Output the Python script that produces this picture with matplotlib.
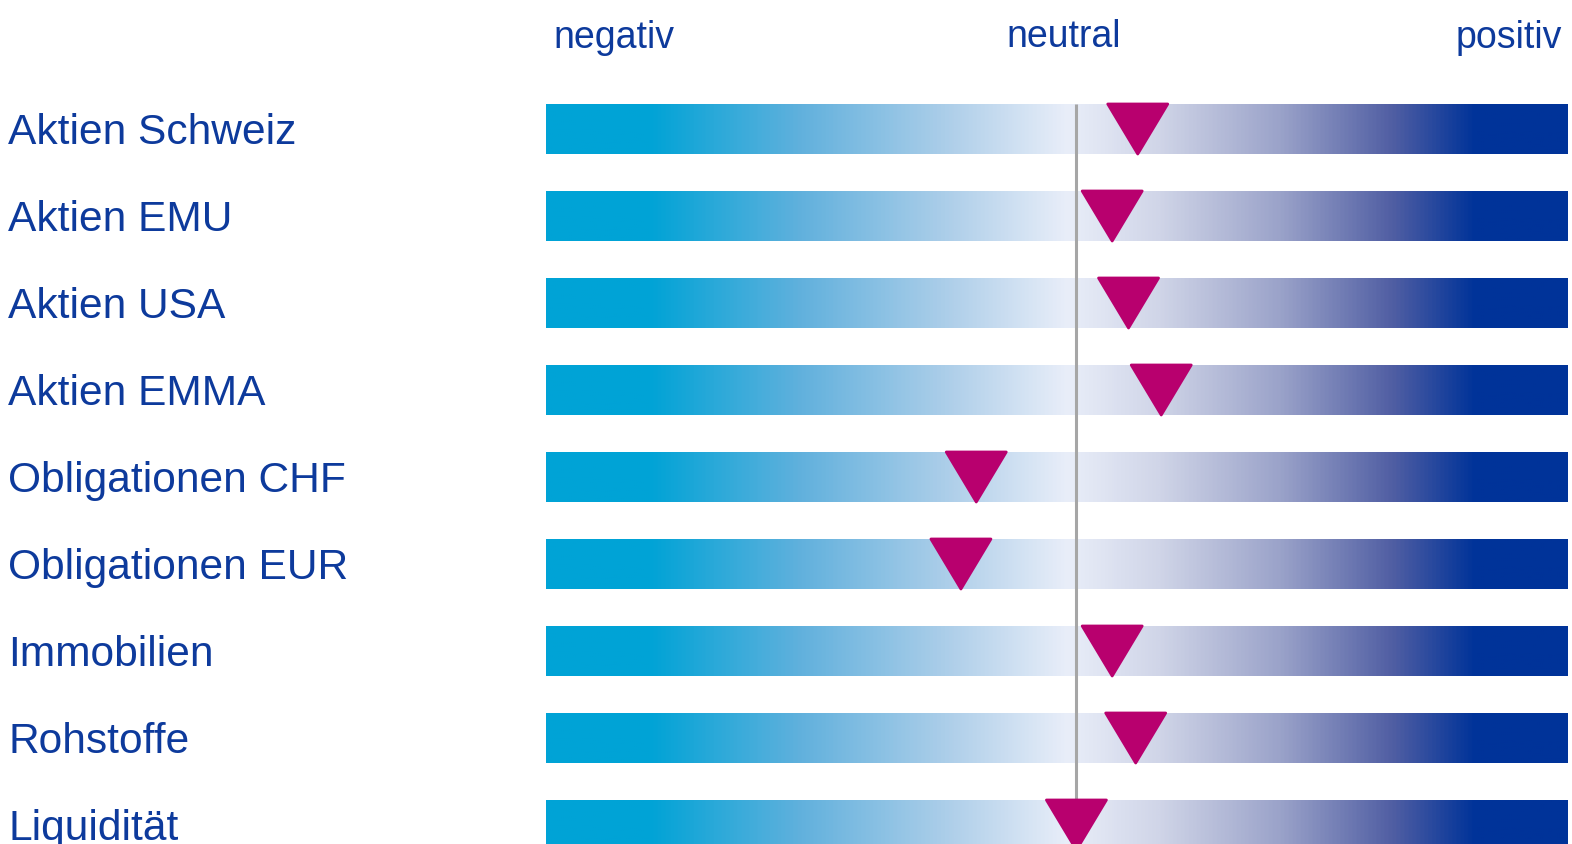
import numpy as np
import matplotlib
matplotlib.use("Agg")
import matplotlib.pyplot as plt
from matplotlib.colors import LinearSegmentedColormap

plt.rcParams['font.family'] = ['Liberation Sans', 'DejaVu Sans']

# data: position on a 0..100 scale (0 = negativ, 100 = positiv)
categories = ["Aktien Schweiz", "Aktien EMU", "Aktien USA", "Aktien EMMA",
              "Obligationen CHF", "Obligationen EUR", "Immobilien",
              "Rohstoffe", "Liquidität"]
scores = [57.9, 55.4, 57.0, 60.2, 42.1, 40.6, 55.4, 57.7, 51.9]
neutral = 51.9
scale_labels = ["negativ", "neutral", "positiv"]

W, H = 1572, 845
fig = plt.figure(figsize=(W / 100, H / 100), dpi=100)
# axes spans the bar region horizontally, full height
ax = fig.add_axes([546 / W, 0, (1568 - 546) / W, 1])
ax.set_xlim(0, 100)
row_px = 87.0
first_px = 130.0
ax.set_ylim((H - first_px) / row_px, -first_px / row_px)
ax.axis('off')

cmap = LinearSegmentedColormap.from_list("score", [
    (0.00, "#00a3d6"),
    (0.10, "#00a3d6"),
    (0.25, "#62b1dd"),
    (0.40, "#b1d0ea"),
    (0.51, "#e9eef9"),
    (0.60, "#d0d5e8"),
    (0.72, "#9aa2c9"),
    (0.83, "#505ea3"),
    (0.91, "#003399"),
    (1.00, "#003399"),
])
grad = np.linspace(0, 1, 512).reshape(1, -1)

half_h = 25 / row_px
tri_half_w = 30 / 1022 * 100
text_color = "#0d3a9c"

for i, (cat, val) in enumerate(zip(categories, scores)):
    ax.imshow(grad, cmap=cmap, aspect='auto',
              extent=(0, 100, i + half_h, i - half_h), zorder=1)
    ax.fill([val - tri_half_w, val + tri_half_w, val],
            [i - half_h, i - half_h, i + half_h],
            color="#b8006e", lw=2, joinstyle='round', zorder=3)
    fig.text(8 / W, 1 - (first_px + row_px * i + 14) / H, cat,
             fontsize=30.6, color=text_color, va='baseline', ha='left')

ax.plot([neutral, neutral], [-half_h, len(categories) + 1], color="#a6a6a6",
        lw=2.2, zorder=2, solid_capstyle='butt')

fig.text(553 / W, 1 - 48 / H, scale_labels[0], fontsize=27, color=text_color,
         va='baseline', ha='left')
fig.text(1064 / W, 1 - 47 / H, scale_labels[1], fontsize=27, color=text_color,
         va='baseline', ha='center')
fig.text(1562 / W, 1 - 48 / H, scale_labels[2], fontsize=27, color=text_color,
         va='baseline', ha='right')

fig.savefig("out.png", dpi=100, facecolor='white')
